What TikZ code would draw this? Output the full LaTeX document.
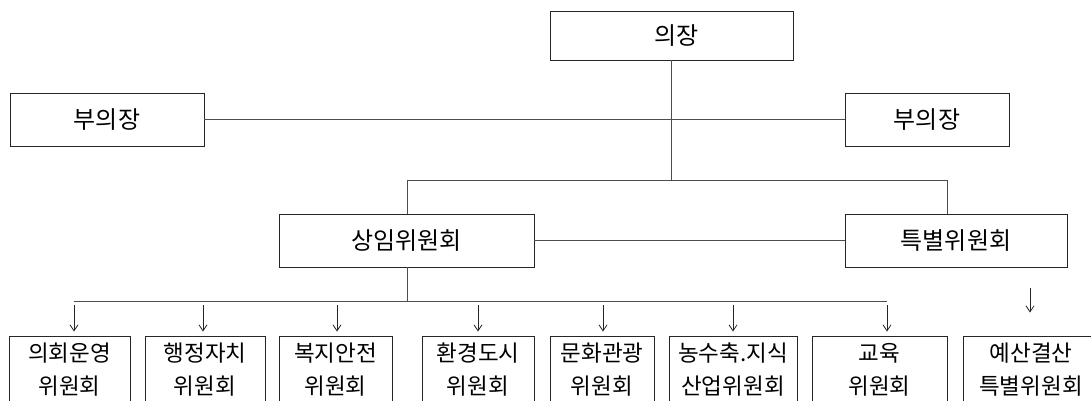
\documentclass[tikz,border=0pt]{standalone}
\usepackage{fontspec}
\setmainfont{Noto Sans CJK KR}
\usetikzlibrary{arrows.meta}
\tikzset{
  topbox/.style={draw=black!85, line width=0.9pt, fill=white, inner sep=0pt,
    minimum height=53pt, font=\fontsize{24}{28}\selectfont},
  subbox/.style={draw=black!85, line width=0.9pt, fill=white, inner sep=0pt,
    minimum height=68pt, align=center, font=\fontsize{22.5}{33}\selectfont},
  conn/.style={draw=black!70, line width=0.8pt},
  arr/.style={draw=black!85, line width=0.8pt, -{Straight Barb[length=6pt,width=8pt]}},
}
\begin{document}
\begin{tikzpicture}[x=1pt,y=-1pt]
\useasboundingbox (0,0) rectangle (1091,401);
\clip (0,0) rectangle (1091,401);

% top level
\node[topbox, minimum width=243pt, minimum height=49pt] (chair) at (671.5,35.5) {\hspace*{10pt}의장};
\node[topbox, minimum width=194pt] (vl) at (107,119.5) {부의장};
\node[topbox, minimum width=164pt] (vr) at (927,119.5) {부의장};
\node[topbox, minimum width=255pt] (sc) at (406.5,240.5) {상임위원회};
\node[topbox, minimum width=222pt] (sp) at (956,240.5) {특별위원회};

% bottom boxes
\node[subbox, minimum width=121pt] (b1) at (69.5,370) {의회운영\\위원회};
\node[subbox, minimum width=120pt] (b2) at (205,370) {행정자치\\위원회};
\node[subbox, minimum width=113pt] (b3) at (335.5,370) {복지안전\\위원회};
\node[subbox, minimum width=112pt] (b4) at (478,370) {환경도시\\위원회};
\node[subbox, minimum width=104pt] (b5) at (602,370) {문화관광\\위원회};
\node[subbox, minimum width=128pt] (b6) at (733,370) {농수축.지식\\산업위원회};
\node[subbox, minimum width=135pt] (b7) at (879.5,370) {교육\\위원회};
\node[subbox, minimum width=136pt] (b8) at (1031,370) {예산결산\\특별위원회};

% coordinates
\coordinate (cbus) at (671,180);
\coordinate (busL) at (407,180);
\coordinate (busR) at (947,180);
\coordinate (lbus) at (407,301);
\coordinate (t1) at (74,301);
\coordinate (t2) at (203,301);
\coordinate (t3) at (337,301);
\coordinate (t4) at (478,301);
\coordinate (t5) at (603,301);
\coordinate (t6) at (733,301);
\coordinate (t7) at (887,301);
\coordinate (t8) at (1030,284);

% connectors
\draw[conn] (vl.east) -- (vr.east -| vr.west);
\draw[conn] (chair.south -| cbus) -- (cbus);
\draw[conn] (busL) -- (busR);
\draw[conn] (busL) -- (sc.north -| busL);
\draw[conn] (busR) -- (sp.north -| busR);
\draw[conn] (sc.east) -- (sp.west);
\draw[conn] (sc.south -| lbus) -- (lbus);
\draw[conn] (t1) -- (t7);

% arrows
\foreach \i in {1,...,7}{
  \draw[arr, shorten <=4pt, shorten >=4pt] (t\i) -- (t\i |- b\i.north);
}
\draw[arr, shorten <=4pt, shorten >=23pt] (t8) -- (t8 |- b8.north);
\end{tikzpicture}
\end{document}
